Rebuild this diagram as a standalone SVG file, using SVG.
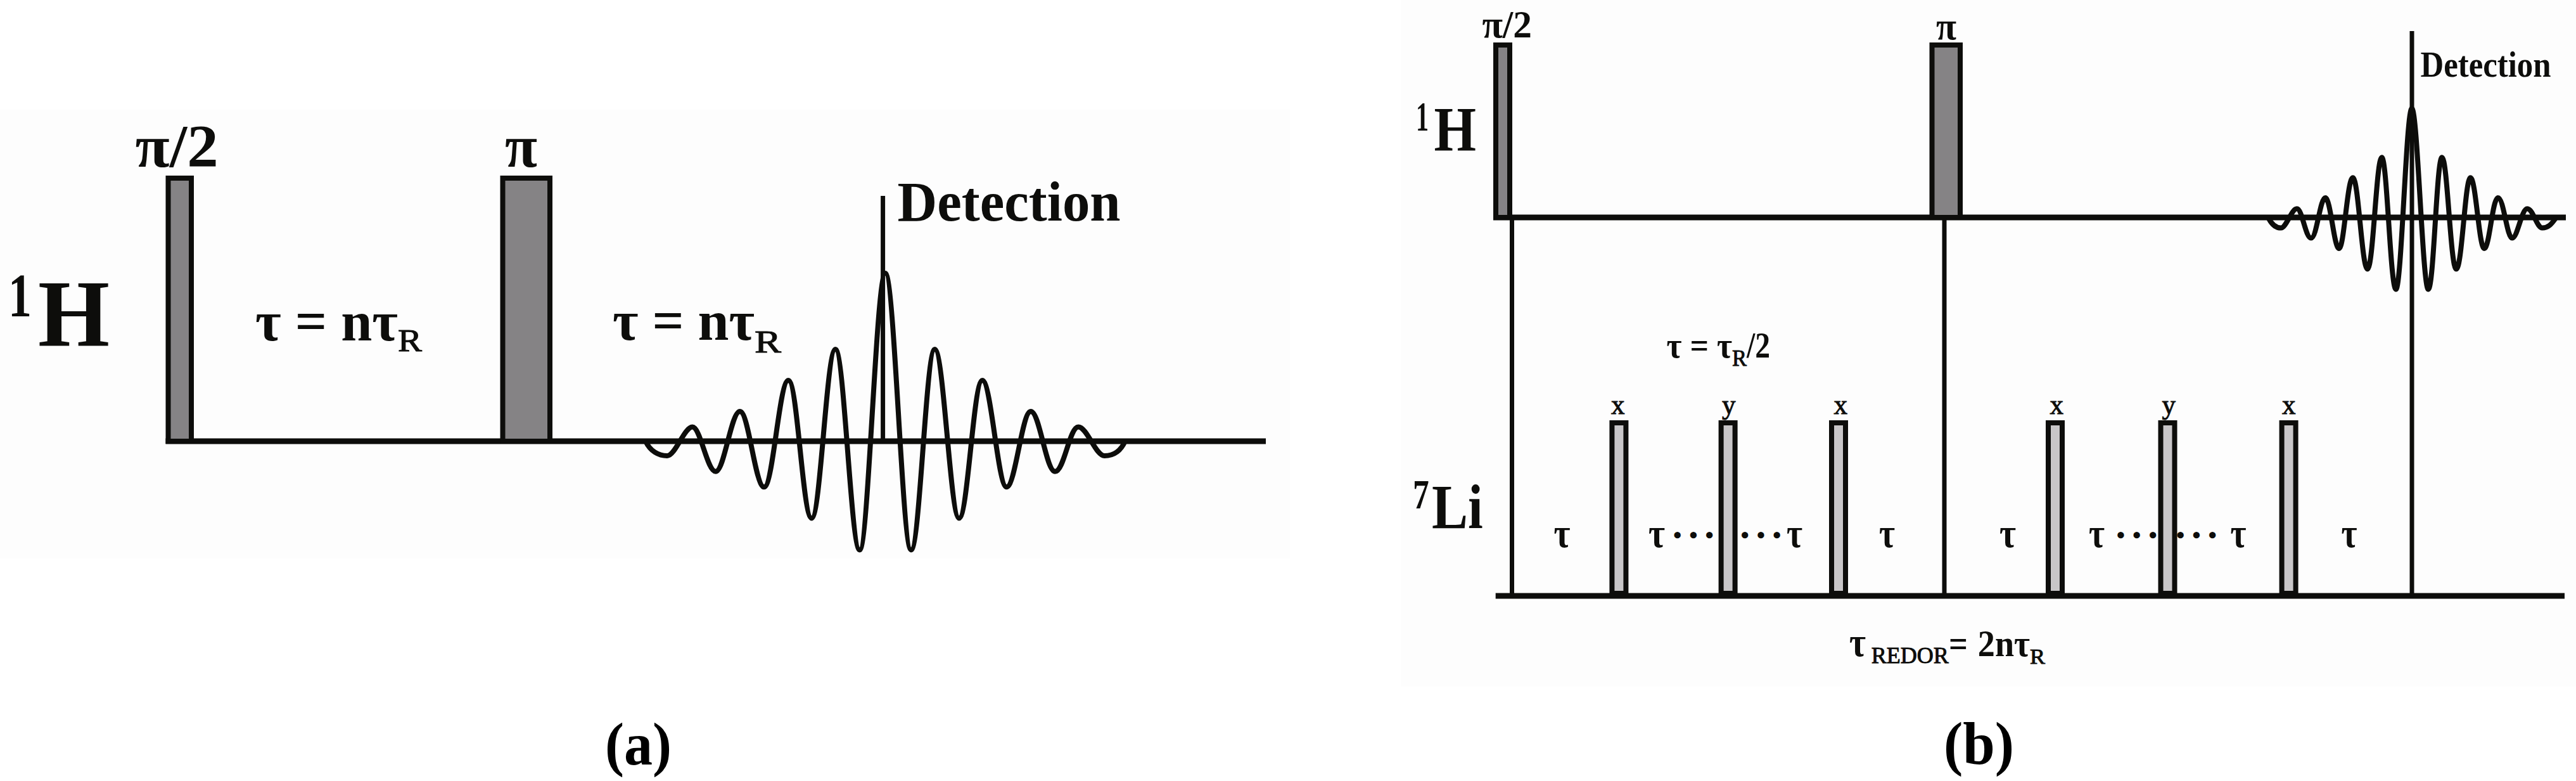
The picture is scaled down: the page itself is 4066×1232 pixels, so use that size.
<svg xmlns="http://www.w3.org/2000/svg" width="4066" height="1232" viewBox="0 0 4066 1232">
<style>
text{font-family:"Liberation Serif","Times New Roman",serif;font-weight:700;fill:#0d0d0b}
.reg{font-weight:400;stroke:#0d0d0b;stroke-width:1}
.dark{fill:#858385;stroke:#0d0d0b;stroke-width:8}
.light{fill:#c8c6c8;stroke:#0d0d0b;stroke-width:8}
.line{fill:none;stroke:#0d0d0b;stroke-width:9}
.thin{fill:none;stroke:#0d0d0b;stroke-width:7}
.wave{fill:none;stroke:#0d0d0b;stroke-width:8}
.cap{fill:#000}
</style>
<rect x="0" y="173" width="2036" height="708" fill="#fdfdfd"/>
<rect x="2211" y="0" width="1855" height="1083" fill="#fdfdfd"/>

<g id="connectors">
<path class="line" d="M261.5 696H1998"/>
<path class="thin" d="M1393.6 309V692"/>
<path class="wave" d="M1018.6 695C1026 712 1040 719 1053 719S1080 673.6 1092.9 673.6S1116 743.8 1129.6 743.8S1154 649 1167.9 649S1192 768.3 1206.1 768.3S1230 600 1244.4 600S1267 817.4 1281.1 817.4S1304.6 551 1318.6 551S1343 867.4 1356.9 867.4S1383 431 1397.4 431S1424 867.4 1438 867.4S1461.5 551 1475.5 551S1500 817.4 1513.8 817.4S1536.5 600 1550.5 600S1575 768.3 1588.8 768.3S1613 649 1627 649S1651 743.8 1665.3 743.8S1688 673.6 1702 673.6S1729 719 1743.4 719S1769 712 1776.3 695"/>
<path class="line" d="M2357 343H4050"/>
<path class="line" d="M2360.7 940H4048"/>
<path class="thin" d="M2386.5 343V940M3069 343V940M3807 49V940"/>
<path class="wave" d="M3581.2 345C3586 354 3592 359.6 3600.3 359.6S3617 329.3 3625.4 329.3S3639 375.6 3647.9 375.6S3662 312 3670.3 312S3684 392 3692 392S3705 280.3 3713.8 280.3S3728 424.6 3736.9 424.6S3751 248.2 3759.4 248.2S3773 456.4 3781.8 456.4S3798 171 3806.9 171S3824 456.4 3832.8 456.4S3846 248.2 3854.5 248.2S3868 424.6 3877 424.6S3891 280.3 3899.4 280.3S3913 392 3921.2 392S3934 312 3942.9 312S3957 375.6 3965.3 375.6S3980 329.3 3989.1 329.3S4004 359.6 4012.9 359.6S4027 354 4033.3 345"/>
</g>

<g id="panel-a-pulse-pi2">
<rect class="dark" x="265.5" y="281" width="36.5" height="415"/>
<text x="213.6" y="263" font-size="96" textLength="131" lengthAdjust="spacingAndGlyphs">π/2</text>
</g>
<g id="panel-a-pulse-pi">
<rect class="dark" x="793.5" y="281" width="74.5" height="415"/>
<text x="797" y="263" font-size="96" textLength="51" lengthAdjust="spacingAndGlyphs">π</text>
</g>
<g id="panel-a-1H">
<text x="13" y="499" font-size="98" textLength="37" lengthAdjust="spacingAndGlyphs">1</text>
<text x="60" y="546" font-size="150" textLength="113" lengthAdjust="spacingAndGlyphs">H</text>
</g>
<g id="panel-a-tau-1">
<text x="403" y="536.5" font-size="88" textLength="225" lengthAdjust="spacingAndGlyphs">τ = nτ</text>
<text x="628" y="554" font-size="50" textLength="38" lengthAdjust="spacingAndGlyphs" class="reg">R</text>
</g>
<g id="panel-a-tau-2">
<text x="967" y="536" font-size="88" textLength="224" lengthAdjust="spacingAndGlyphs">τ = nτ</text>
<text x="1191" y="556" font-size="50" textLength="42" lengthAdjust="spacingAndGlyphs" class="reg">R</text>
</g>
<g id="panel-a-detection">
<text x="1416.6" y="348" font-size="88" textLength="352" lengthAdjust="spacingAndGlyphs">Detection</text>
</g>
<g id="caption-a">
<text class="cap" x="955" y="1206" font-size="96" textLength="105" lengthAdjust="spacingAndGlyphs">(a)</text>
</g>

<g id="panel-b-pulse-pi2">
<rect class="dark" x="2361" y="71" width="22" height="272"/>
<text x="2339.4" y="59" font-size="62" textLength="78.6" lengthAdjust="spacingAndGlyphs">π/2</text>
</g>
<g id="panel-b-pulse-pi">
<rect class="dark" x="3049.5" y="71" width="44.5" height="272"/>
<text x="3056" y="62" font-size="62" textLength="32" lengthAdjust="spacingAndGlyphs">π</text>
</g>
<g id="panel-b-1H">
<text x="2235" y="206" font-size="65" textLength="20" lengthAdjust="spacingAndGlyphs">1</text>
<text x="2263.5" y="236.5" font-size="100" textLength="66.5" lengthAdjust="spacingAndGlyphs">H</text>
</g>
<g id="panel-b-detection">
<text x="3820.5" y="120.5" font-size="58" textLength="206" lengthAdjust="spacingAndGlyphs">Detection</text>
</g>
<g id="panel-b-tau-def">
<text x="2630.5" y="564" font-size="56" textLength="103.5" lengthAdjust="spacingAndGlyphs">τ = τ</text>
<text x="2734" y="576.5" font-size="35" textLength="23" lengthAdjust="spacingAndGlyphs" class="reg">R</text>
<text x="2757" y="564" font-size="56" textLength="37" lengthAdjust="spacingAndGlyphs">/2</text>
</g>
<g id="panel-b-7Li">
<text x="2230" y="802" font-size="65" textLength="25.7" lengthAdjust="spacingAndGlyphs">7</text>
<text x="2260" y="833" font-size="100" textLength="80.6" lengthAdjust="spacingAndGlyphs">Li</text>
</g>

<g id="pulse-7Li-1">
<rect class="light" x="2544.4" y="667" width="22" height="269"/>
<text class="reg" x="2543" y="653" font-size="44" textLength="21.5" lengthAdjust="spacingAndGlyphs">x</text>
</g>
<g id="pulse-7Li-2">
<rect class="light" x="2716.6" y="667" width="22" height="269"/>
<text class="reg" x="2718" y="653" font-size="44" textLength="21.5" lengthAdjust="spacingAndGlyphs">y</text>
</g>
<g id="pulse-7Li-3">
<rect class="light" x="2891" y="667" width="22" height="269"/>
<text class="reg" x="2894.6" y="653" font-size="44" textLength="21.5" lengthAdjust="spacingAndGlyphs">x</text>
</g>
<g id="pulse-7Li-4">
<rect class="light" x="3233" y="667" width="22" height="269"/>
<text class="reg" x="3235.4" y="653" font-size="44" textLength="21.5" lengthAdjust="spacingAndGlyphs">x</text>
</g>
<g id="pulse-7Li-5">
<rect class="light" x="3410.5" y="667" width="22" height="269"/>
<text class="reg" x="3412.5" y="653" font-size="44" textLength="21.5" lengthAdjust="spacingAndGlyphs">y</text>
</g>
<g id="pulse-7Li-6">
<rect class="light" x="3601.6" y="667" width="22" height="269"/>
<text class="reg" x="3602" y="653" font-size="44" textLength="21.5" lengthAdjust="spacingAndGlyphs">x</text>
</g>

<g id="panel-b-delays" font-size="66">
<text x="2452.6" y="863" textLength="26" lengthAdjust="spacingAndGlyphs">τ</text>
<text x="2602" y="863" textLength="26" lengthAdjust="spacingAndGlyphs">τ</text>
<text x="2641" y="857" font-size="38" letter-spacing="12">•••</text>
<text x="2747.5" y="857" font-size="38" letter-spacing="12">•••</text>
<text x="2820" y="863" textLength="25" lengthAdjust="spacingAndGlyphs">τ</text>
<text x="2966" y="863" textLength="25" lengthAdjust="spacingAndGlyphs">τ</text>
<text x="3156" y="863" textLength="26" lengthAdjust="spacingAndGlyphs">τ</text>
<text x="3297" y="863" textLength="25" lengthAdjust="spacingAndGlyphs">τ</text>
<text x="3340.8" y="857" font-size="38" letter-spacing="12">•••</text>
<text x="3435" y="857" font-size="38" letter-spacing="12">•••</text>
<text x="3520.5" y="863" textLength="25" lengthAdjust="spacingAndGlyphs">τ</text>
<text x="3695.5" y="863" textLength="25" lengthAdjust="spacingAndGlyphs">τ</text>
</g>

<g id="panel-b-redor">
<text x="2919" y="1035" font-size="66" textLength="26" lengthAdjust="spacingAndGlyphs">τ</text>
<text x="2953.7" y="1046" font-size="36" textLength="122" lengthAdjust="spacingAndGlyphs" class="reg">REDOR</text>
<text x="3076" y="1035" font-size="59" textLength="30" lengthAdjust="spacingAndGlyphs">=</text>
<text x="3121.8" y="1035" font-size="59" textLength="82.2" lengthAdjust="spacingAndGlyphs">2nτ</text>
<text x="3204" y="1046.5" font-size="34" textLength="24" lengthAdjust="spacingAndGlyphs" class="reg">R</text>
</g>
<g id="caption-b">
<text class="cap" x="3068" y="1205" font-size="96" textLength="111" lengthAdjust="spacingAndGlyphs">(b)</text>
</g>
</svg>
